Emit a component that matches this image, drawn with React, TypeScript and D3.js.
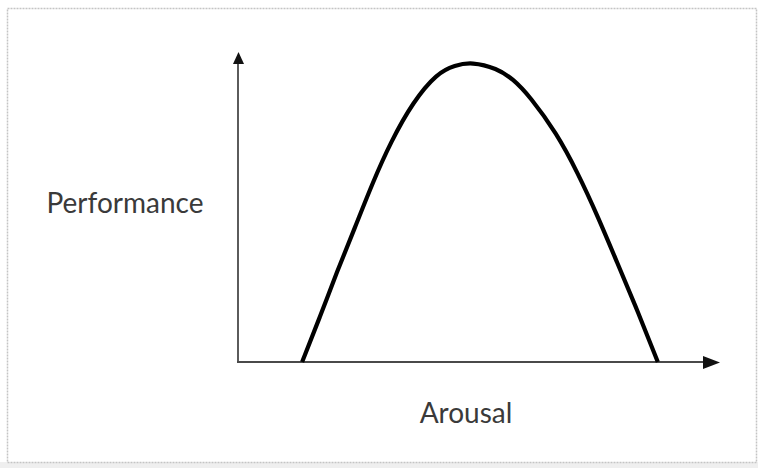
import React from "react";
import * as d3 from "d3";

// Arousal (x, 0-100 along the axis) and performance (y, 0-100 along the axis)
const arousal = [13.3, 17.0, 20.5, 24.3, 28.0, 31.7, 36.3, 41.3, 45.0, 48.5, 53.7, 57.0, 60.6, 66.1, 70.5, 74.7, 78.6, 83.0, 87.1];
const performance = [0, 14.5, 29.0, 43.5, 58.1, 71.0, 83.9, 93.2, 95.7, 96.8, 94.7, 91.4, 85.6, 73.8, 61.0, 46.8, 32.3, 16.1, 0];
const xLabel = "Arousal";
const yLabel = "Performance";

const W = 758;
const H = 468;

export default function App() {
  const x = d3.scaleLinear().domain([0, 100]).range([238, 720]);
  const y = d3.scaleLinear().domain([0, 100]).range([362, 52]);
  const pts: [number, number][] = arousal.map((a, i) => [a, performance[i]]);
  const line = d3
    .line<[number, number]>()
    .x((d) => x(d[0]))
    .y((d) => y(d[1]))
    .curve(d3.curveBasis);
  const x0 = x(0);
  const y0 = y(0);
  const xEnd = x(100);
  const yEnd = y(100);
  const axisColor = "#4a4a4a";
  const textColor = "#3a3a3a";
  const font = "Lato, 'Open Sans', sans-serif";
  return (
    <svg
      width={W}
      height={H}
      style={{ position: "absolute", left: 0, top: 0, background: "#fff" }}
    >
      <rect x={0} y={0} width={W} height={H} fill="#ffffff" />
      <rect x={0} y={462} width={W} height={6} fill="#efefef" />
      <rect x={7.5} y={8.5} width={749} height={454} fill="#ffffff" stroke="#c4c4c4" strokeWidth={1.5} strokeDasharray="2 1" />
      {/* axes */}
      <line x1={x0} y1={y0} x2={x0} y2={yEnd + 10} stroke={axisColor} strokeWidth={1.8} />
      <path d={`M${x0 + 0.5},${yEnd} L${x0 - 5},${yEnd + 12} L${x0 + 6},${yEnd + 12} Z`} fill="#111" />
      <line x1={x0 - 1} y1={y0} x2={xEnd - 10} y2={y0} stroke={axisColor} strokeWidth={1.8} />
      <path d={`M${xEnd},${y0 + 0.5} L${xEnd - 17},${y0 - 6} L${xEnd - 17},${y0 + 7} Z`} fill="#111" />
      {/* curve */}
      <path d={line(pts) || ""} fill="none" stroke="#000" strokeWidth={4.2} strokeLinecap="butt" strokeLinejoin="round" />
      {/* labels */}
      <text x={125} y={213} textAnchor="middle" fontFamily={font} fontSize={28} fill={textColor}>
        {yLabel}
      </text>
      <text x={466} y={423} textAnchor="middle" fontFamily={font} fontSize={28} fill={textColor}>
        {xLabel}
      </text>
    </svg>
  );
}
